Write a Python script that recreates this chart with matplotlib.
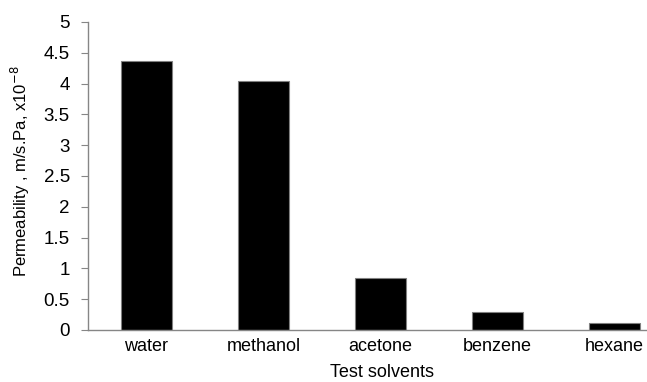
import matplotlib.pyplot as plt

solvents = ["water", "methanol", "acetone", "benzene", "hexane"]
permeability = [4.37, 4.04, 0.84, 0.30, 0.11]
yticks = [0, 0.5, 1, 1.5, 2, 2.5, 3, 3.5, 4, 4.5, 5]

plt.rcParams['font.family'] = ['Liberation Sans', 'DejaVu Sans']

fig = plt.figure(figsize=(6.47, 3.82), dpi=100)
# right edge of the category axis runs past the figure
ax = fig.add_axes([88 / 647, 52 / 382, 585 / 647, 308 / 382])

x = range(len(solvents))
ax.bar(x, permeability, width=0.43, color='black', edgecolor='#808080', linewidth=0.8)

ax.set_xlim(-0.5, 4.5)
ax.set_ylim(0, 5)
ax.set_yticks(yticks)
ax.set_yticklabels(['0', '0.5', '1', '1.5', '2', '2.5', '3', '3.5', '4', '4.5', '5'])
ax.set_xticks(list(x))
ax.set_xticklabels(solvents)

for side in ['top', 'right']:
    ax.spines[side].set_visible(False)
for side in ['left', 'bottom']:
    ax.spines[side].set_color('#868686')
    ax.spines[side].set_linewidth(1.0)

ax.tick_params(axis='y', direction='out', length=5, color='#868686', labelsize=13.5, pad=8)
ax.tick_params(axis='x', length=0, labelsize=13, pad=6)

ax.set_ylabel('Permeability , m/s.Pa, x10$^{-8}$', fontsize=12)
ax.yaxis.set_label_coords(-0.095, 0.515)
ax.set_xlabel('Test solvents', fontsize=13)
ax.xaxis.set_label_coords(0.503, -0.11)

fig.savefig('out.png', dpi=100)
